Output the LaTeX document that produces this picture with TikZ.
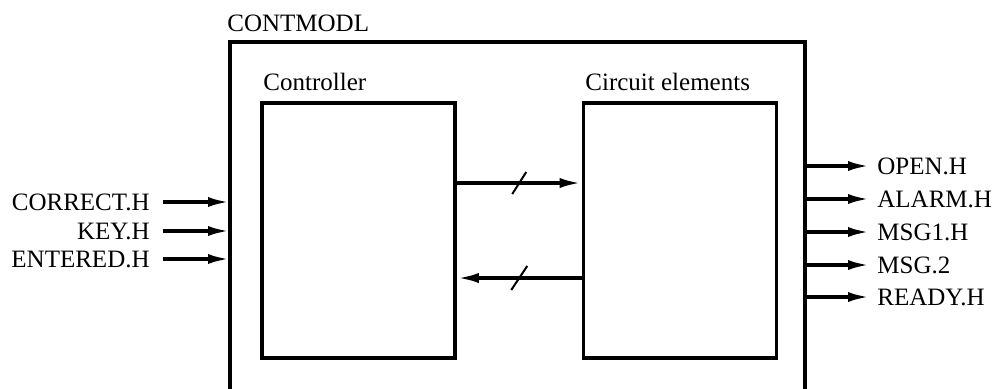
\documentclass[tikz,border=0pt]{standalone}
\usepackage{fontspec}
\setmainfont{Liberation Serif}
\usetikzlibrary{arrows.meta,calc}
\begin{document}
\begin{tikzpicture}[x=0.5pt,y=-0.5pt,
  lbl/.style={font=\fontsize{12.5}{14}\selectfont, inner sep=0pt},
  inlbl/.style={lbl, anchor=east, inner xsep=6.5pt},
  outlbl/.style={lbl, anchor=west, inner xsep=3.5pt},
  blk/.style={draw, line width=1.8pt, minimum width=96.5pt, minimum height=127.5pt, inner sep=0pt},
  arr/.style={line width=1.8pt, -{Latex[length=11pt,width=5pt]}},
  slash/.style={line width=1pt}]
\useasboundingbox (0,0) rectangle (997,388);
% outer module
\coordinate (oTL) at (230,42);
\coordinate (oTR) at (805,42);
\draw[line width=1.8pt] (230,395) -- (oTL) -- (oTR) -- (805,395);
\node[lbl, anchor=base west] (tmod) at (227,31) {CONTMODL};
% inner blocks
\node[blk] (ctrl) at (358.5,230.5) {};
\node[blk] (circ) at (680,230.5) {};
\node[lbl, anchor=base west] (tctrl) at (263,90) {Controller};
\node[lbl, anchor=base west] (tcirc) at (585,90) {Circuit elements};
% internal buses
\draw[arr] ([yshift=23.75pt]ctrl.east) -- ([yshift=23.75pt]circ.west)
  coordinate[pos=0.5] (m1);
\draw[arr] ([yshift=-23.75pt]circ.west) -- ([yshift=-23.75pt]ctrl.east)
  coordinate[pos=0.5] (m2);
\draw[slash] (m1) ++(-7,11) -- ++(14,-22);
\draw[slash] (m2) ++(-8,12) -- ++(16,-24);
% inputs
\node[inlbl] (iC) at (163,202) {CORRECT.H};
\node[inlbl] (iK) at (163,231) {KEY.H};
\node[inlbl] (iE) at (163,259) {ENTERED.H};
\foreach \n in {iC,iK,iE}
  \draw[arr] (\n.east) -- (\n.east -| oTL);
% outputs
\node[outlbl] (oO) at (870,166) {OPEN.H};
\node[outlbl] (oA) at (870,199) {ALARM.H};
\node[outlbl] (oM1) at (870,232) {MSG1.H};
\node[outlbl] (oM2) at (870,265) {MSG.2};
\node[outlbl] (oR) at (870,297) {READY.H};
\foreach \n in {oO,oA,oM1,oM2,oR}
  \draw[arr] (\n.west -| oTR) -- (\n.west);
\end{tikzpicture}
\end{document}
